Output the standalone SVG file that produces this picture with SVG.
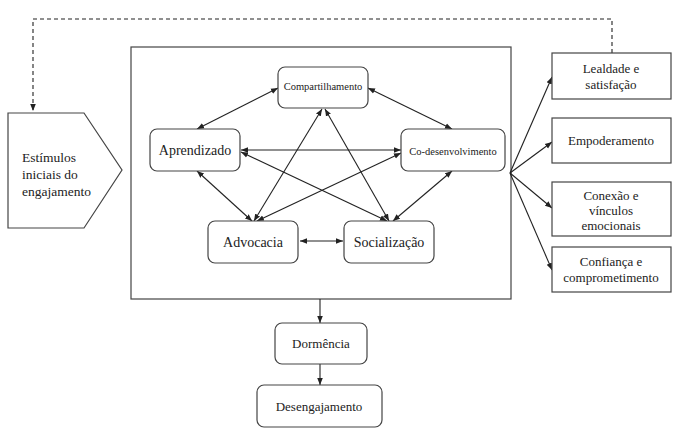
<svg xmlns="http://www.w3.org/2000/svg" width="677" height="432" viewBox="0 0 677 432" font-family="'Liberation Serif', 'DejaVu Serif', serif">
<style>
.box{fill:#fff;stroke:#444;stroke-width:1.2}
.rbox{fill:#fff;stroke:#444;stroke-width:1.2}
.t{font-family:'Liberation Serif','DejaVu Serif',serif;fill:#222;text-anchor:middle}
.c{stroke:#222;stroke-width:1.1;fill:none}
.d{stroke:#222;stroke-width:1.1;fill:none;stroke-dasharray:4 3}
</style>
<defs>
<marker id="ah" viewBox="0 0 10 10" refX="10" refY="5" markerWidth="7" markerHeight="7" orient="auto-start-reverse" markerUnits="userSpaceOnUse">
<path d="M0,1 L10,5 L0,9 Z" fill="#222"/>
</marker>
</defs>
<rect width="677" height="432" fill="#fff"/>
<g id="main-frame"><rect x="131" y="47" width="380" height="252" fill="none" stroke="#444" stroke-width="1.2"/></g>
<g id="connectors">
<path class="d" d="M612,53 V19 H33 V111" marker-end="url(#ah)"/>
<line class="c" x1="278" y1="88" x2="197" y2="129" marker-start="url(#ah)" marker-end="url(#ah)"/>
<line class="c" x1="368" y1="88" x2="452" y2="129" marker-start="url(#ah)" marker-end="url(#ah)"/>
<line class="c" x1="241" y1="150" x2="401" y2="150" marker-start="url(#ah)" marker-end="url(#ah)"/>
<line class="c" x1="241" y1="152" x2="387" y2="221" marker-start="url(#ah)" marker-end="url(#ah)"/>
<line class="c" x1="197" y1="171" x2="252" y2="221" marker-start="url(#ah)" marker-end="url(#ah)"/>
<line class="c" x1="452" y1="171" x2="393" y2="221" marker-start="url(#ah)" marker-end="url(#ah)"/>
<line class="c" x1="401" y1="153" x2="257" y2="221" marker-start="url(#ah)" marker-end="url(#ah)"/>
<line class="c" x1="322" y1="109" x2="254" y2="221" marker-start="url(#ah)" marker-end="url(#ah)"/>
<line class="c" x1="325" y1="109" x2="389" y2="221" marker-start="url(#ah)" marker-end="url(#ah)"/>
<line class="c" x1="300" y1="241" x2="343" y2="241" marker-start="url(#ah)" marker-end="url(#ah)"/>
<line class="c" x1="510" y1="173" x2="552" y2="77" marker-end="url(#ah)"/>
<line class="c" x1="510" y1="173" x2="552" y2="142" marker-end="url(#ah)"/>
<line class="c" x1="510" y1="173" x2="552" y2="208" marker-end="url(#ah)"/>
<line class="c" x1="510" y1="173" x2="552" y2="270" marker-end="url(#ah)"/>
<line class="c" x1="320" y1="299" x2="320" y2="323" marker-end="url(#ah)"/>
<line class="c" x1="320" y1="364" x2="320" y2="385" marker-end="url(#ah)"/>
</g>
<g id="estimulos">
<path class="box" d="M8,113 H84 L122,170 L84,228 H8 Z"/>
<text class="t" style="text-anchor:start" font-size="13.5" x="22" y="162">Estímulos</text>
<text class="t" style="text-anchor:start" font-size="13.5" x="22" y="179">iniciais do</text>
<text class="t" style="text-anchor:start" font-size="13.5" x="22" y="196">engajamento</text>
</g>
<g id="compartilhamento"><rect class="rbox" x="278" y="67" width="90" height="41" rx="7"/><text class="t" font-size="10.5" x="323" y="90">Compartilhamento</text></g>
<g id="aprendizado"><rect class="rbox" x="150" y="129" width="90" height="42" rx="7"/><text class="t" font-size="14" x="195" y="155">Aprendizado</text></g>
<g id="codesenvolvimento"><rect class="rbox" x="401" y="129" width="104" height="42" rx="7"/><text class="t" font-size="10.5" x="453" y="155">Co-desenvolvimento</text></g>
<g id="advocacia"><rect class="rbox" x="208" y="221" width="90" height="42" rx="7"/><text class="t" font-size="14" x="253" y="247">Advocacia</text></g>
<g id="socializacao"><rect class="rbox" x="344" y="221" width="90" height="42" rx="7"/><text class="t" font-size="14" x="389" y="247">Socialização</text></g>
<g id="lealdade"><rect class="box" x="552" y="53" width="119" height="46"/><text class="t" font-size="13" x="611" y="73">Lealdade e</text><text class="t" font-size="13" x="611" y="89">satisfação</text></g>
<g id="empoderamento"><rect class="box" x="552" y="118" width="119" height="45"/><text class="t" font-size="13" x="611" y="145">Empoderamento</text></g>
<g id="conexao"><rect class="box" x="552" y="182" width="119" height="54"/><text class="t" font-size="13" x="611" y="200">Conexão e</text><text class="t" font-size="13" x="611" y="215">vínculos</text><text class="t" font-size="13" x="611" y="230">emocionais</text></g>
<g id="confianca"><rect class="box" x="552" y="247" width="119" height="45"/><text class="t" font-size="13" x="611" y="266">Confiança e</text><text class="t" font-size="13" x="611" y="282">comprometimento</text></g>
<g id="dormencia"><rect class="rbox" x="275" y="323" width="92" height="41" rx="7"/><text class="t" font-size="13" x="321" y="348">Dormência</text></g>
<g id="desengajamento"><rect class="rbox" x="257" y="385" width="125" height="42" rx="7"/><text class="t" font-size="13" x="319" y="411">Desengajamento</text></g>
</svg>
